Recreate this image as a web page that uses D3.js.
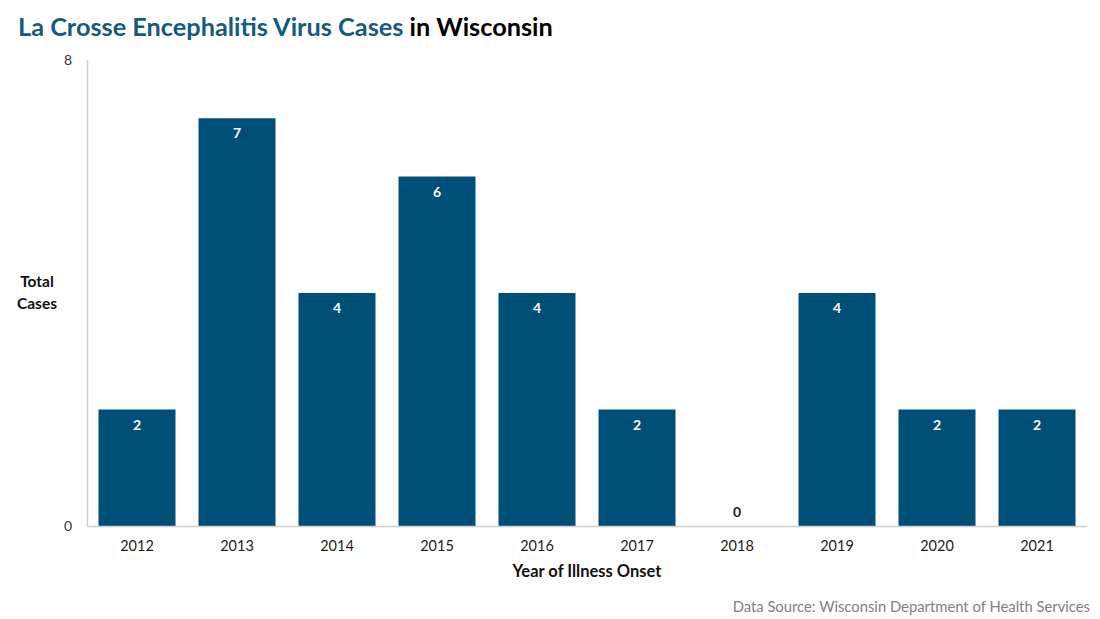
<!DOCTYPE html>
<html><head><meta charset="utf-8">
<script src="https://cdn.jsdelivr.net/npm/d3@7"></script>
<style>body{margin:0;background:#fff;} svg{display:block;font-family:Lato,"Open Sans",sans-serif;}</style>
</head><body><svg id="c" width="1100" height="619"></svg>
<script>
const years = ["2012","2013","2014","2015","2016","2017","2018","2019","2020","2021"];
const cases = [2,7,4,6,4,2,0,4,2,2];
const yTicks = [0,8];

const svg = d3.select("#c");
const barColor = "#004F79";
const x = d3.scaleBand().domain(years).range([87,1087]).paddingInner(0.23).paddingOuter(0.115);
const y = d3.scaleLinear().domain([0,8]).range([526,60]);

// title
const t = svg.append("text").attr("x",18).attr("y",36).attr("font-size",25.3).attr("font-weight","bold");
t.append("tspan").attr("fill","#155A80").text("La Crosse Encephalitis Virus Cases");
t.append("tspan").attr("fill","#000").text(" in Wisconsin");

// bars
svg.selectAll("rect.bar").data(years).join("rect").attr("class","bar")
  .attr("x",d=>x(d)).attr("width",x.bandwidth())
  .attr("y",(d,i)=>y(cases[i])).attr("height",(d,i)=>y(0)-y(cases[i]))
  .attr("fill",barColor);

// data labels
svg.selectAll("text.lbl").data(years).join("text").attr("class","lbl")
  .attr("x",d=>x(d)+x.bandwidth()/2)
  .attr("y",(d,i)=>cases[i]>0? y(cases[i])+20 : y(0)-9)
  .attr("text-anchor","middle").attr("font-size",14).attr("font-weight","bold")
  .attr("fill",(d,i)=>cases[i]>0?"#fff":"#222")
  .text((d,i)=>cases[i]);

// axes
const yAxis = d3.axisLeft(y).tickValues(yTicks).tickSize(0).tickPadding(15);
const gy = svg.append("g").attr("transform","translate(87,0)").call(yAxis);
gy.select(".domain").attr("stroke","#d0d0d0").attr("stroke-width",1.5);
gy.selectAll("text").attr("font-size",14).attr("fill","#333").attr("font-family","Lato,sans-serif");

const xAxis = d3.axisBottom(x).tickSize(0).tickPadding(15);
const gx = svg.append("g").attr("transform","translate(0,526)").call(xAxis);
gx.select(".domain").attr("stroke","#d0d0d0").attr("stroke-width",1.5);
gx.selectAll("text").attr("font-size",14.5).attr("fill","#222").attr("font-family","Lato,sans-serif");

// axis titles
svg.append("text").attr("x",587).attr("y",577).attr("text-anchor","middle")
  .attr("font-size",16.5).attr("font-weight","bold").attr("fill","#111").text("Year of Illness Onset");
const yt = svg.append("text").attr("text-anchor","middle").attr("font-size",15.5).attr("font-weight","bold").attr("fill","#111");
yt.append("tspan").attr("x",37).attr("y",287).text("Total");
yt.append("tspan").attr("x",37).attr("y",309).text("Cases");

// source
svg.append("text").attr("x",1090).attr("y",612).attr("text-anchor","end")
  .attr("font-size",14.8).attr("fill","#808080").text("Data Source: Wisconsin Department of Health Services");
</script></body></html>
